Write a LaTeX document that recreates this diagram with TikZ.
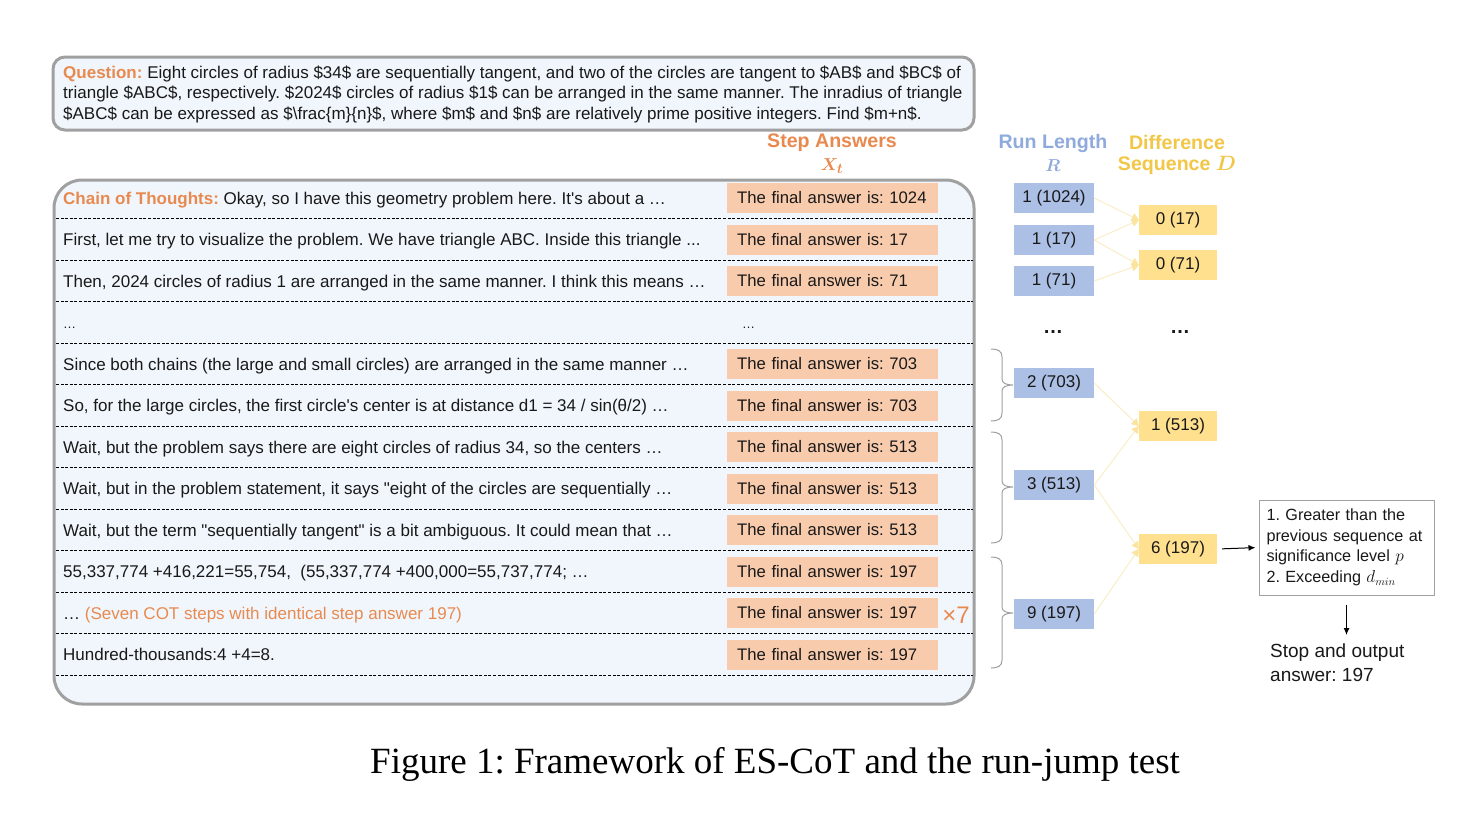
\documentclass[tikz,border=0pt]{standalone}
\usepackage{fontspec}
\setmainfont{Liberation Sans}
\newfontfamily\rawsans{Liberation Sans}
\newfontfamily\capfont{Liberation Serif}
\usepackage{bm}
\usetikzlibrary{arrows.meta,calc}
\frenchspacing
\newcommand{\sq}{{\rawsans "}}
\newcommand{\ap}{{\rawsans '}}
\definecolor{orangeT}{RGB}{232,138,80}
\definecolor{txt}{RGB}{25,25,25}
\definecolor{peach}{RGB}{248,203,173}
\definecolor{blueB}{RGB}{172,191,229}
\definecolor{blueT}{RGB}{143,170,220}
\definecolor{yelB}{RGB}{255,224,142}
\definecolor{goldT}{RGB}{242,198,70}
\definecolor{panel}{RGB}{240,246,252}
\definecolor{frame}{RGB}{160,160,160}
\definecolor{connC}{RGB}{250,238,200}
\definecolor{arrC}{RGB}{250,228,160}
\begin{document}
\begin{tikzpicture}[x=1pt,y=-1pt,
  font=\fontsize{17}{20.5}\selectfont,
  rowtxt/.style={anchor=base west, inner sep=0pt, text=txt},
  ans/.style={fill=peach, text width=191pt, inner xsep=10pt, inner ysep=0pt, minimum height=30pt, align=left, anchor=west, text=txt, font=\fontsize{16.7}{20}\selectfont},
  bbox/.style={fill=blueB, minimum width=80pt, minimum height=30pt, inner sep=0pt, text=txt},
  ybox/.style={fill=yelB, minimum width=78pt, minimum height=30pt, inner sep=0pt, text=txt},
  conn/.style={draw=connC, line width=1pt, -{Triangle[length=7pt,width=8pt,color=arrC]}},
  brc/.style={draw=frame, line width=1pt},
  sep/.style={draw=black, line width=0.9pt, dash pattern=on 3pt off 1.6pt},
  hdr/.style={font=\fontsize{19.6}{22}\selectfont\bfseries, inner sep=0pt}
]
\useasboundingbox (0,0) rectangle (1480,814);
\fill[white] (0,0) rectangle (1480,814);

% Question box
\draw[frame, line width=3pt, fill=panel, rounded corners=12pt] (53,57) rectangle (974,130);
\node[anchor=base west, inner sep=0pt, align=left, text=txt] (q) at (63,119) {%
\textcolor{orangeT}{\bfseries Question:} Eight circles of radius \$34\$ are sequentially tangent, and two of the circles are tangent to \$AB\$ and \$BC\$ of\\
triangle \$ABC\$, respectively. \$2024\$ circles of radius \$1\$ can be arranged in the same manner. The inradius of triangle\\
\$ABC\$ can be expressed as \$\textbackslash frac\{m\}\{n\}\$, where \$m\$ and \$n\$ are relatively prime positive integers. Find \$m+n\$.};

% Headers
\node[hdr, text=orangeT] (hsa) at (832,143) {Step Answers};
\node[inner sep=0pt, text=orangeT, font=\fontsize{19}{20}\selectfont] (hx) at (832,166) {$\bm{X_t}$};
\node[hdr, text=blueT] (hrl) at (1053,143) {Run Length};
\node[inner sep=0pt, text=blueT, font=\fontsize{19}{20}\selectfont] (hr) at (1053,166) {$\bm{R}$};
\node[hdr, text=goldT] (hd1) at (1177,142) {Difference};
\node[hdr, text=goldT] (hd2) at (1177,165) {Sequence $\bm{D}$};

% Main panel
\draw[frame, line width=3pt, fill=panel, rounded corners=28pt] (54,180) rectangle (974,704);
\foreach \k in {0,...,11}{
  \draw[sep] (56,{218.75+41.5*\k}) -- (972.5,{218.75+41.5*\k});
}

% Row texts
\node[rowtxt] (t1) at (63,204) {\textcolor{orangeT}{\bfseries Chain of Thoughts:} Okay, so I have this geometry problem here. It\ap s about a …};
\node[rowtxt] (t2) at (63,245.5) {First, let me try to visualize the problem. We have triangle ABC. Inside this triangle ...};
\node[rowtxt] (t3) at (63,287) {Then, 2024 circles of radius 1 are arranged in the same manner. I think this means …};
\node[rowtxt, font=\fontsize{13}{15}\selectfont] (t4) at (63,328.5) {…};
\node[rowtxt] (t5) at (63,370) {Since both chains (the large and small circles) are arranged in the same manner …};
\node[rowtxt] (t6) at (63,411.5) {So, for the large circles, the first circle\ap s center is at distance d1 = 34 / sin(θ/2) …};
\node[rowtxt] (t7) at (63,453) {Wait, but the problem says there are eight circles of radius 34, so the centers …};
\node[rowtxt] (t8) at (63,494.5) {Wait, but in the problem statement, it says \sq eight of the circles are sequentially …};
\node[rowtxt] (t9) at (63,536) {Wait, but the term \sq sequentially tangent\sq{} is a bit ambiguous. It could mean that …};
\node[rowtxt] (t10) at (63,577.5) {55,337,774 +416,221=55,754,\ \ (55,337,774 +400,000=55,737,774; …};
\node[rowtxt] (t11) at (63,619) {… \textcolor{orangeT}{(Seven COT steps with identical step answer 197)}};
\node[rowtxt] (t12) at (63,660.5) {Hundred-thousands:4 +4=8.};

% Step answers
\node[ans] (a1) at (727,198) {\mbox{The final answer is: 1024}};
\node[ans] (a2) at (727,239.5) {\mbox{The final answer is: 17}};
\node[ans] (a3) at (727,281) {\mbox{The final answer is: 71}};
\node[rowtxt, font=\fontsize{13}{15}\selectfont] (a4) at (742,328.5) {…};
\node[ans] (a5) at (727,364) {\mbox{The final answer is: 703}};
\node[ans] (a6) at (727,405.5) {\mbox{The final answer is: 703}};
\node[ans] (a7) at (727,447) {\mbox{The final answer is: 513}};
\node[ans] (a8) at (727,488.5) {\mbox{The final answer is: 513}};
\node[ans] (a9) at (727,530) {\mbox{The final answer is: 513}};
\node[ans] (a10) at (727,571.5) {\mbox{The final answer is: 197}};
\node[ans] (a11) at (727,613) {\mbox{The final answer is: 197}};
\node[ans] (a12) at (727,654.5) {\mbox{The final answer is: 197}};
\node[inner sep=0pt, text=orangeT, font=\fontsize{24}{26}\selectfont] (x7) at (956,615) {×7};

% Run length boxes
\node[bbox] (b1) at (1054,198) {1 (1024)};
\node[bbox] (b2) at (1054,240) {1 (17)};
\node[bbox] (b3) at (1054,281) {1 (71)};
\node[inner sep=0pt, font=\fontsize{20}{22}\selectfont\bfseries, text=txt] (bd) at (1053,332) {…};
\node[bbox] (b4) at (1054,383) {2 (703)};
\node[bbox] (b5) at (1054,485) {3 (513)};
\node[bbox] (b6) at (1054,614) {9 (197)};

% Difference boxes
\node[ybox] (y1) at (1178,220) {0 (17)};
\node[ybox] (y2) at (1178,265) {0 (71)};
\node[inner sep=0pt, font=\fontsize{20}{22}\selectfont\bfseries, text=txt] (yd) at (1180,332) {…};
\node[ybox] (y3) at (1178,426) {1 (513)};
\node[ybox] (y4) at (1178,549) {6 (197)};

% Connectors
\draw[conn] (b1.east) -- (y1.west);
\draw[conn] (b2.east) -- (y1.west);
\draw[conn] (b2.east) -- (y2.west);
\draw[conn] (b3.east) -- (y2.west);
\draw[conn] (b4.east) -- (y3.west);
\draw[conn] (b5.east) -- (y3.west);
\draw[conn] (b5.east) -- (y4.west);
\draw[conn] (b6.east) -- (y4.west);

% Braces
\draw[brc] (991,349) .. controls (998,349) and (1002,351) .. (1002,357) -- (1002,379)
  .. controls (1002,383) and (1006,385) .. (1013,385) .. controls (1006,385) and (1002,387) .. (1002,391)
  -- (1002,413) .. controls (1002,419) and (998,421) .. (991,421);
\draw[brc] (991,432) .. controls (998,432) and (1002,434) .. (1002,440) -- (1002,481)
  .. controls (1002,485) and (1006,487) .. (1013,487) .. controls (1006,487) and (1002,489) .. (1002,493)
  -- (1002,535) .. controls (1002,541) and (998,543) .. (991,543);
\draw[brc] (991,557) .. controls (998,557) and (1002,559) .. (1002,565) -- (1002,607)
  .. controls (1002,611) and (1006,613) .. (1013,613) .. controls (1006,613) and (1002,615) .. (1002,619)
  -- (1002,660) .. controls (1002,666) and (998,668) .. (991,668);

% Criteria and output
\node[draw=frame, line width=1pt, fill=white, minimum width=175pt, minimum height=95pt, text width=160pt, inner xsep=7.5pt, align=left, text=txt, font=\fontsize{16.2}{20.5}\selectfont] (crit) at (1346.5,547.5)
  {\mbox{1. Greater than the}\\\mbox{previous sequence at}\\\mbox{significance level $p$}\\\mbox{2. Exceeding $d_{min}$}};
\draw[line width=1pt, -{Latex[length=7pt,width=6pt]}, shorten <=5pt, shorten >=3pt] (y4.east) -- (crit.west);
\node[anchor=north west, inner sep=0pt, align=left, text=txt, font=\fontsize{19}{24}\selectfont] (stop) at (1270,644) {Stop and output\\answer: 197};
\draw[line width=1pt, -{Latex[length=7pt,width=6pt]}, shorten >=9pt] ([yshift=-9pt]crit.south) -- (crit.south |- stop.north);

% Caption
\node[anchor=base west, inner sep=0pt, font=\capfont\fontsize{37}{40}\selectfont] (cap) at (370,773) {Figure 1: Framework of ES-CoT and the run-jump test};
\end{tikzpicture}
\end{document}
